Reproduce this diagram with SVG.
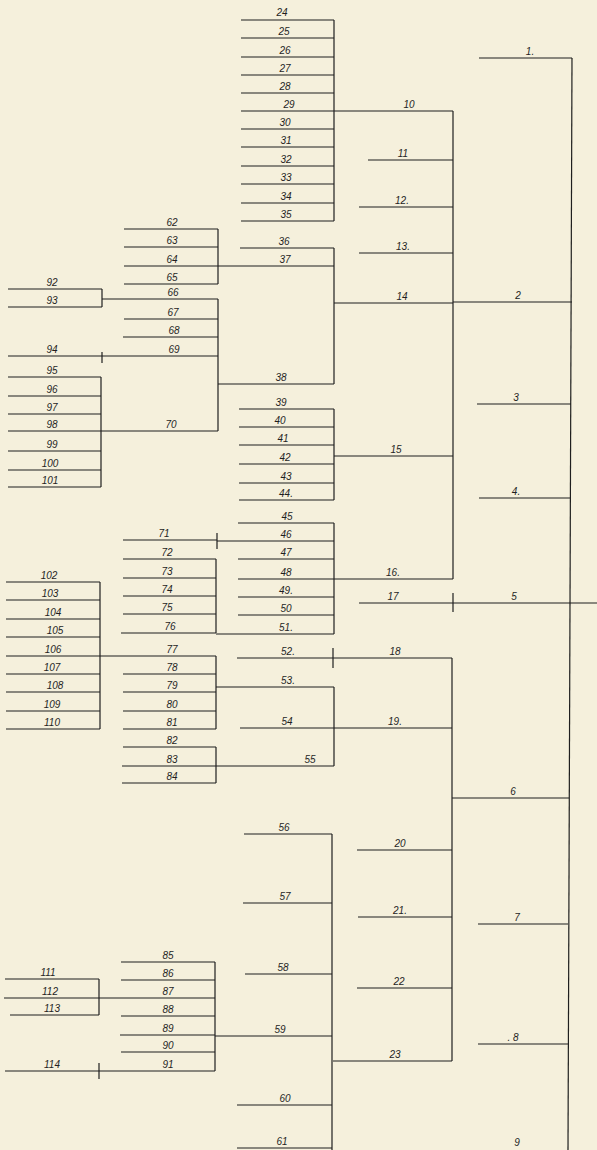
<svg xmlns="http://www.w3.org/2000/svg" width="597" height="1150" viewBox="0 0 597 1150">
<style>
line{stroke:#1f1f1f;stroke-width:1.2;fill:none}
text{font-family:"Liberation Sans",Arial,sans-serif;font-style:italic;font-size:10px;fill:#1f1f1f;text-anchor:middle}
</style>
<rect x="0" y="0" width="597" height="1150" fill="#f5f0dc"/>
<g id="connectors">
<line x1="572" y1="58" x2="568" y2="1150"/>
<line x1="453" y1="111" x2="453" y2="579"/>
<line x1="453" y1="593" x2="453" y2="612"/>
<line x1="452" y1="658" x2="452" y2="1061"/>
<line x1="334" y1="20" x2="334" y2="221"/>
<line x1="334" y1="248" x2="334" y2="384"/>
<line x1="334" y1="409" x2="334" y2="500"/>
<line x1="334" y1="523" x2="334" y2="634"/>
<line x1="333" y1="648" x2="333" y2="668"/>
<line x1="334" y1="687" x2="334" y2="766"/>
<line x1="332" y1="834" x2="332" y2="1150"/>
<line x1="218" y1="229" x2="218" y2="284"/>
<line x1="218" y1="299" x2="218" y2="431"/>
<line x1="217" y1="533" x2="217" y2="549"/>
<line x1="216" y1="559" x2="216" y2="633"/>
<line x1="216" y1="656" x2="216" y2="729"/>
<line x1="216" y1="747" x2="216" y2="783"/>
<line x1="215" y1="962" x2="215" y2="1071"/>
<line x1="102" y1="289" x2="102" y2="307"/>
<line x1="102" y1="352" x2="102" y2="363"/>
<line x1="101" y1="377" x2="101" y2="487"/>
<line x1="100" y1="582" x2="100" y2="729"/>
<line x1="99" y1="979" x2="99" y2="1015"/>
<line x1="99" y1="1063" x2="99" y2="1079"/>
</g>
<g id="n1"><line x1="479" y1="58" x2="572" y2="58"/><text x="530" y="55">1.</text></g>
<g id="n2"><line x1="453" y1="302" x2="572" y2="302"/><text x="518" y="299">2</text></g>
<g id="n3"><line x1="477" y1="404" x2="571" y2="404"/><text x="516" y="401">3</text></g>
<g id="n4"><line x1="479" y1="498" x2="570" y2="498"/><text x="516" y="495">4.</text></g>
<g id="n5"><line x1="453" y1="603" x2="597" y2="603"/><text x="514" y="600">5</text></g>
<g id="n6"><line x1="452" y1="798" x2="569" y2="798"/><text x="513" y="795">6</text></g>
<g id="n7"><line x1="478" y1="924" x2="568" y2="924"/><text x="517" y="921">7</text></g>
<g id="n8"><line x1="478" y1="1044" x2="568" y2="1044"/><text x="513" y="1041">. 8</text></g>
<g id="n9"><text x="517" y="1146">9</text></g>
<g id="n10"><line x1="334" y1="111" x2="453" y2="111"/><text x="409" y="108">10</text></g>
<g id="n11"><line x1="368" y1="160" x2="453" y2="160"/><text x="403" y="157">11</text></g>
<g id="n12"><line x1="359" y1="207" x2="453" y2="207"/><text x="402" y="204">12.</text></g>
<g id="n13"><line x1="359" y1="253" x2="453" y2="253"/><text x="403" y="250">13.</text></g>
<g id="n14"><line x1="334" y1="303" x2="453" y2="303"/><text x="402" y="300">14</text></g>
<g id="n15"><line x1="334" y1="456" x2="453" y2="456"/><text x="396" y="453">15</text></g>
<g id="n16"><line x1="334" y1="579" x2="453" y2="579"/><text x="393" y="576">16.</text></g>
<g id="n17"><line x1="359" y1="603" x2="453" y2="603"/><text x="393" y="600">17</text></g>
<g id="n18"><line x1="333" y1="658" x2="452" y2="658"/><text x="395" y="655">18</text></g>
<g id="n19"><line x1="334" y1="728" x2="452" y2="728"/><text x="395" y="725">19.</text></g>
<g id="n20"><line x1="357" y1="850" x2="452" y2="850"/><text x="400" y="847">20</text></g>
<g id="n21"><line x1="358" y1="917" x2="452" y2="917"/><text x="400" y="914">21.</text></g>
<g id="n22"><line x1="357" y1="988" x2="452" y2="988"/><text x="399" y="985">22</text></g>
<g id="n23"><line x1="333" y1="1061" x2="452" y2="1061"/><text x="395" y="1058">23</text></g>
<g id="n24"><line x1="241" y1="20" x2="334" y2="20"/><text x="282" y="16">24</text></g>
<g id="n25"><line x1="241" y1="38" x2="334" y2="38"/><text x="284" y="35">25</text></g>
<g id="n26"><line x1="241" y1="57" x2="334" y2="57"/><text x="285" y="54">26</text></g>
<g id="n27"><line x1="241" y1="75" x2="334" y2="75"/><text x="285" y="72">27</text></g>
<g id="n28"><line x1="241" y1="93" x2="334" y2="93"/><text x="285" y="90">28</text></g>
<g id="n29"><line x1="241" y1="111" x2="334" y2="111"/><text x="289" y="108">29</text></g>
<g id="n30"><line x1="241" y1="129" x2="334" y2="129"/><text x="285" y="126">30</text></g>
<g id="n31"><line x1="241" y1="147" x2="334" y2="147"/><text x="286" y="144">31</text></g>
<g id="n32"><line x1="241" y1="166" x2="334" y2="166"/><text x="286" y="163">32</text></g>
<g id="n33"><line x1="241" y1="184" x2="334" y2="184"/><text x="286" y="181">33</text></g>
<g id="n34"><line x1="241" y1="203" x2="334" y2="203"/><text x="286" y="200">34</text></g>
<g id="n35"><line x1="241" y1="221" x2="334" y2="221"/><text x="286" y="218">35</text></g>
<g id="n36"><line x1="240" y1="248" x2="334" y2="248"/><text x="284" y="245">36</text></g>
<g id="n37"><line x1="218" y1="266" x2="334" y2="266"/><text x="285" y="263">37</text></g>
<g id="n38"><line x1="218" y1="384" x2="334" y2="384"/><text x="281" y="381">38</text></g>
<g id="n39"><line x1="239" y1="409" x2="334" y2="409"/><text x="281" y="406">39</text></g>
<g id="n40"><line x1="239" y1="427" x2="334" y2="427"/><text x="280" y="424">40</text></g>
<g id="n41"><line x1="239" y1="445" x2="334" y2="445"/><text x="283" y="442">41</text></g>
<g id="n42"><line x1="239" y1="464" x2="334" y2="464"/><text x="285" y="461">42</text></g>
<g id="n43"><line x1="239" y1="483" x2="334" y2="483"/><text x="286" y="480">43</text></g>
<g id="n44"><line x1="239" y1="500" x2="334" y2="500"/><text x="286" y="497">44.</text></g>
<g id="n45"><line x1="238" y1="523" x2="334" y2="523"/><text x="287" y="520">45</text></g>
<g id="n46"><line x1="217" y1="541" x2="334" y2="541"/><text x="286" y="538">46</text></g>
<g id="n47"><line x1="238" y1="559" x2="334" y2="559"/><text x="286" y="556">47</text></g>
<g id="n48"><line x1="238" y1="579" x2="334" y2="579"/><text x="286" y="576">48</text></g>
<g id="n49"><line x1="238" y1="597" x2="334" y2="597"/><text x="286" y="594">49.</text></g>
<g id="n50"><line x1="238" y1="615" x2="334" y2="615"/><text x="286" y="612">50</text></g>
<g id="n51"><line x1="216" y1="634" x2="334" y2="634"/><text x="286" y="631">51.</text></g>
<g id="n52"><line x1="237" y1="658" x2="333" y2="658"/><text x="288" y="655">52.</text></g>
<g id="n53"><line x1="216" y1="687" x2="334" y2="687"/><text x="288" y="684">53.</text></g>
<g id="n54"><line x1="240" y1="728" x2="334" y2="728"/><text x="287" y="725">54</text></g>
<g id="n55"><line x1="216" y1="766" x2="334" y2="766"/><text x="310" y="763">55</text></g>
<g id="n56"><line x1="244" y1="834" x2="332" y2="834"/><text x="284" y="831">56</text></g>
<g id="n57"><line x1="243" y1="903" x2="332" y2="903"/><text x="285" y="900">57</text></g>
<g id="n58"><line x1="245" y1="974" x2="332" y2="974"/><text x="283" y="971">58</text></g>
<g id="n59"><line x1="215" y1="1036" x2="332" y2="1036"/><text x="280" y="1033">59</text></g>
<g id="n60"><line x1="237" y1="1105" x2="332" y2="1105"/><text x="285" y="1102">60</text></g>
<g id="n61"><line x1="237" y1="1148" x2="332" y2="1148"/><text x="282" y="1145">61</text></g>
<g id="n62"><line x1="124" y1="229" x2="218" y2="229"/><text x="172" y="226">62</text></g>
<g id="n63"><line x1="124" y1="247" x2="218" y2="247"/><text x="172" y="244">63</text></g>
<g id="n64"><line x1="124" y1="266" x2="218" y2="266"/><text x="172" y="263">64</text></g>
<g id="n65"><line x1="124" y1="284" x2="218" y2="284"/><text x="172" y="281">65</text></g>
<g id="n66"><line x1="102" y1="299" x2="218" y2="299"/><text x="173" y="296">66</text></g>
<g id="n67"><line x1="124" y1="319" x2="218" y2="319"/><text x="173" y="316">67</text></g>
<g id="n68"><line x1="123" y1="337" x2="218" y2="337"/><text x="174" y="334">68</text></g>
<g id="n69"><line x1="102" y1="356" x2="218" y2="356"/><text x="174" y="353">69</text></g>
<g id="n70"><line x1="101" y1="431" x2="218" y2="431"/><text x="171" y="428">70</text></g>
<g id="n71"><line x1="123" y1="540" x2="217" y2="540"/><text x="164" y="537">71</text></g>
<g id="n72"><line x1="123" y1="559" x2="216" y2="559"/><text x="167" y="556">72</text></g>
<g id="n73"><line x1="123" y1="578" x2="216" y2="578"/><text x="167" y="575">73</text></g>
<g id="n74"><line x1="123" y1="596" x2="216" y2="596"/><text x="167" y="593">74</text></g>
<g id="n75"><line x1="123" y1="614" x2="216" y2="614"/><text x="167" y="611">75</text></g>
<g id="n76"><line x1="121" y1="633" x2="216" y2="633"/><text x="170" y="630">76</text></g>
<g id="n77"><line x1="100" y1="656" x2="216" y2="656"/><text x="172" y="653">77</text></g>
<g id="n78"><line x1="123" y1="674" x2="216" y2="674"/><text x="172" y="671">78</text></g>
<g id="n79"><line x1="123" y1="692" x2="216" y2="692"/><text x="172" y="689">79</text></g>
<g id="n80"><line x1="123" y1="711" x2="216" y2="711"/><text x="172" y="708">80</text></g>
<g id="n81"><line x1="123" y1="729" x2="216" y2="729"/><text x="172" y="726">81</text></g>
<g id="n82"><line x1="123" y1="747" x2="216" y2="747"/><text x="172" y="744">82</text></g>
<g id="n83"><line x1="122" y1="766" x2="216" y2="766"/><text x="172" y="763">83</text></g>
<g id="n84"><line x1="122" y1="783" x2="216" y2="783"/><text x="172" y="780">84</text></g>
<g id="n85"><line x1="121" y1="962" x2="215" y2="962"/><text x="168" y="959">85</text></g>
<g id="n86"><line x1="121" y1="980" x2="215" y2="980"/><text x="168" y="977">86</text></g>
<g id="n87"><line x1="99" y1="998" x2="215" y2="998"/><text x="168" y="995">87</text></g>
<g id="n88"><line x1="121" y1="1016" x2="215" y2="1016"/><text x="168" y="1013">88</text></g>
<g id="n89"><line x1="120" y1="1035" x2="215" y2="1035"/><text x="168" y="1032">89</text></g>
<g id="n90"><line x1="121" y1="1052" x2="215" y2="1052"/><text x="168" y="1049">90</text></g>
<g id="n91"><line x1="99" y1="1071" x2="215" y2="1071"/><text x="168" y="1068">91</text></g>
<g id="n92"><line x1="8" y1="289" x2="102" y2="289"/><text x="52" y="286">92</text></g>
<g id="n93"><line x1="8" y1="307" x2="102" y2="307"/><text x="52" y="304">93</text></g>
<g id="n94"><line x1="8" y1="356" x2="102" y2="356"/><text x="52" y="353">94</text></g>
<g id="n95"><line x1="8" y1="377" x2="101" y2="377"/><text x="52" y="374">95</text></g>
<g id="n96"><line x1="8" y1="396" x2="101" y2="396"/><text x="52" y="393">96</text></g>
<g id="n97"><line x1="8" y1="414" x2="101" y2="414"/><text x="52" y="411">97</text></g>
<g id="n98"><line x1="8" y1="431" x2="101" y2="431"/><text x="52" y="428">98</text></g>
<g id="n99"><line x1="8" y1="451" x2="101" y2="451"/><text x="52" y="448">99</text></g>
<g id="n100"><line x1="8" y1="470" x2="101" y2="470"/><text x="50" y="467">100</text></g>
<g id="n101"><line x1="8" y1="487" x2="101" y2="487"/><text x="50" y="484">101</text></g>
<g id="n102"><line x1="6" y1="582" x2="100" y2="582"/><text x="49" y="579">102</text></g>
<g id="n103"><line x1="6" y1="600" x2="100" y2="600"/><text x="50" y="597">103</text></g>
<g id="n104"><line x1="6" y1="619" x2="100" y2="619"/><text x="53" y="616">104</text></g>
<g id="n105"><line x1="6" y1="637" x2="100" y2="637"/><text x="55" y="634">105</text></g>
<g id="n106"><line x1="6" y1="656" x2="100" y2="656"/><text x="53" y="653">106</text></g>
<g id="n107"><line x1="6" y1="674" x2="100" y2="674"/><text x="52" y="671">107</text></g>
<g id="n108"><line x1="6" y1="692" x2="100" y2="692"/><text x="55" y="689">108</text></g>
<g id="n109"><line x1="6" y1="711" x2="100" y2="711"/><text x="52" y="708">109</text></g>
<g id="n110"><line x1="6" y1="729" x2="100" y2="729"/><text x="52" y="726">110</text></g>
<g id="n111"><line x1="5" y1="979" x2="99" y2="979"/><text x="48" y="976">111</text></g>
<g id="n112"><line x1="4" y1="998" x2="99" y2="998"/><text x="50" y="995">112</text></g>
<g id="n113"><line x1="10" y1="1015" x2="99" y2="1015"/><text x="52" y="1012">113</text></g>
<g id="n114"><line x1="5" y1="1071" x2="99" y2="1071"/><text x="52" y="1068">114</text></g>
</svg>
